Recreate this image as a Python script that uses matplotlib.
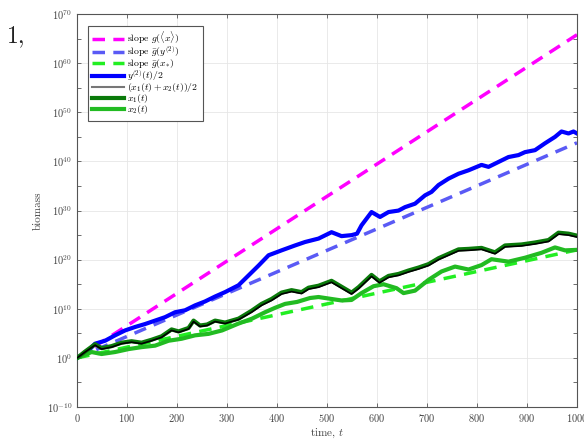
import numpy as np
import matplotlib
matplotlib.use("Agg")
import matplotlib.pyplot as plt
from matplotlib.ticker import FixedLocator, FixedFormatter

plt.rcParams['font.family'] = 'serif'
plt.rcParams['font.serif'] = ['cmr10', 'DejaVu Serif']
plt.rcParams['mathtext.fontset'] = 'cm'
plt.rcParams['axes.formatter.use_mathtext'] = True

# ---- data (log10 of biomass) ----
t_blue = [0, 20, 36, 56, 76, 96, 116, 136, 156, 176, 196, 216, 236, 256, 276, 296, 323, 343, 363,
          383, 409, 436, 456, 483, 509, 529, 549, 560, 569, 589, 606, 623, 643, 656, 676, 696, 709,
          723, 743, 763, 783, 809, 823, 843, 863, 883, 896, 916, 936, 956, 969, 983, 993, 1000]
y_blue = [0, 1.2, 2.9, 3.5, 4.6, 5.6, 6.3, 6.9, 7.6, 8.3, 9.3, 9.7, 10.7, 11.5, 12.5, 13.4, 14.8, 16.8, 18.8,
          20.9, 21.9, 22.9, 23.6, 24.3, 25.6, 24.8, 25.0, 25.3, 27.0, 29.7, 28.7, 29.7, 30.0, 30.7, 31.4, 33.1, 33.8,
          35.2, 36.5, 37.5, 38.2, 39.3, 38.9, 39.9, 40.9, 41.3, 41.9, 42.3, 43.7, 45.0, 46.1, 45.7, 46.1, 45.7]

t_avg = [0, 16, 36, 49, 69, 89, 109, 129, 149, 169, 189, 203, 223, 233, 246, 260, 276, 296, 323, 349,
         369, 389, 409, 429, 449, 463, 483, 509, 529, 549, 563, 589, 605, 623, 643, 663, 683, 703, 723,
         743, 763, 783, 809, 836, 856, 889, 916, 943, 963, 983, 1000]
y_avg = [0, 1.2, 2.6, 1.8, 2.2, 2.9, 3.2, 2.9, 3.5, 4.2, 5.6, 5.2, 5.9, 7.4, 6.4, 6.6, 7.4, 7.0, 7.8, 9.3,
         10.7, 11.7, 13.0, 13.5, 13.1, 14.0, 14.4, 15.4, 14.2, 13.0, 14.1, 16.6, 15.3, 16.4, 16.8, 17.5, 18.1, 18.8, 20.0,
         20.9, 21.8, 21.9, 22.1, 21.2, 22.6, 22.8, 23.2, 23.7, 25.2, 25.0, 24.6]

t_x1 = [0, 16, 36, 49, 69, 89, 109, 129, 149, 169, 189, 203, 223, 233, 246, 260, 276, 296, 323, 349,
        369, 389, 409, 429, 449, 463, 483, 509, 529, 549, 563, 589, 605, 623, 643, 663, 683, 703, 723,
        743, 763, 783, 809, 836, 856, 889, 916, 943, 963, 983, 1000]
y_x1 = [0, 1.3, 2.8, 2.0, 2.4, 3.1, 3.4, 3.1, 3.7, 4.4, 5.8, 5.4, 6.1, 7.6, 6.6, 6.8, 7.6, 7.2, 8.0, 9.6,
        11.0, 12.0, 13.3, 13.8, 13.4, 14.3, 14.7, 15.7, 14.5, 13.3, 14.4, 16.9, 15.6, 16.7, 17.1, 17.8, 18.4, 19.1, 20.3,
        21.2, 22.1, 22.2, 22.4, 21.5, 22.9, 23.1, 23.5, 24.0, 25.5, 25.3, 24.9]

t_x2 = [0, 29, 49, 76, 103, 129, 156, 183, 209, 236, 263, 290, 323, 350, 376, 396, 416, 440, 466, 483,
        509, 529, 549, 569, 593, 613, 639, 653, 676, 703, 729, 756, 783, 809, 829, 863, 896, 929, 956, 976, 1000]
y_x2 = [0, 1.2, 0.8, 1.2, 1.8, 2.2, 2.5, 3.5, 3.9, 4.6, 4.9, 5.6, 7.0, 8.0, 9.3, 10.2, 11.0, 11.4, 12.2, 12.4,
        12.0, 11.7, 11.8, 13.2, 14.6, 15.0, 14.2, 13.2, 13.7, 15.9, 17.6, 18.6, 18.0, 18.9, 20.1, 19.6, 20.4, 21.4, 22.5, 21.9, 22.0]

t_slope = [0, 1000]
slope_mean = [0, 65.8]
slope_y2 = [0, 43.8]
slope_x = [0, 22.0]

labels = [r"slope $g(\langle x\rangle)$", r"slope $\bar{g}(y^{(2)})$", r"slope $\bar{g}(x_{*})$",
          r"$y^{(2)}(t)/2$", r"$(x_1(t)+x_2(t))/2$", r"$x_1(t)$", r"$x_2(t)$"]

ytick_exp = [-10, 0, 10, 20, 30, 40, 50, 60, 70]
yminor_exp = [-5, 5, 15, 25, 35, 45, 55, 65]
xticks = [0, 100, 200, 300, 400, 500, 600, 700, 800, 900, 1000]

fig = plt.figure(figsize=(5.84, 4.41), dpi=100)
ax = fig.add_axes([0.132, 0.077, 0.856, 0.891])

dash = (0, (3.6, 2.4))
p = lambda v: 10.0 ** np.asarray(v)
ax.plot(t_slope, p(slope_mean), color='#ff00ff', lw=2.5, ls=dash, label=labels[0], zorder=2)
ax.plot(t_slope, p(slope_y2), color='#5a5af5', lw=2.5, ls=dash, label=labels[1], zorder=2)
ax.plot(t_slope, p(slope_x), color='#22ee22', lw=2.5, ls=dash, label=labels[2], zorder=2)
ax.plot(t_blue, p(y_blue), color='#0000ff', lw=3.0, label=labels[3], zorder=3)
ax.plot(t_avg, p(y_avg), color='#000000', lw=1.2, label=labels[4], zorder=6)
ax.plot(t_x1, p(y_x1), color='#0a7a0a', lw=3.0, label=labels[5], zorder=5)
ax.plot(t_x2, p(y_x2), color='#22bb22', lw=3.0, label=labels[6], zorder=4)

ax.set_yscale('log')
ax.set_xlim(0, 1000)
ax.set_ylim(1e-10, 1e70)
ax.yaxis.set_major_locator(FixedLocator([10.0 ** e for e in ytick_exp]))
ax.yaxis.set_major_formatter(FixedFormatter([r"$10^{%d}$" % e for e in ytick_exp]))
ax.yaxis.set_minor_locator(FixedLocator([10.0 ** e for e in yminor_exp]))
ax.yaxis.set_minor_formatter(FixedFormatter([""] * len(yminor_exp)))
ax.set_xticks(xticks)

ax.tick_params(which='both', direction='in', top=True, right=True, length=3, width=0.6,
               color='#555555', labelcolor='#444444', labelsize=7.5)
ax.grid(True, which='major', color='#e6e6e6', lw=0.6)
for s in ax.spines.values():
    s.set_color('#555555')
    s.set_linewidth(0.8)

ax.set_xlabel("time, $t$", fontsize=8, color='#444444', labelpad=2)
ax.set_ylabel("biomass", fontsize=8, color='#444444', labelpad=3)

handles, labs = ax.get_legend_handles_labels()
handles[4] = plt.Line2D([], [], color='#777777', lw=1.5)
leg = ax.legend(handles, labs, loc='upper left', bbox_to_anchor=(0.012, 0.983), fontsize=7,
                handlelength=3.3, handletextpad=0.3, labelspacing=-0.2, borderpad=0.45,
                fancybox=False, edgecolor='#555555', framealpha=1)
leg.get_frame().set_linewidth(0.8)

fig.text(0.012, 0.905, "1,", fontsize=17, color='#222222')

fig.savefig("out.png", dpi=100)
